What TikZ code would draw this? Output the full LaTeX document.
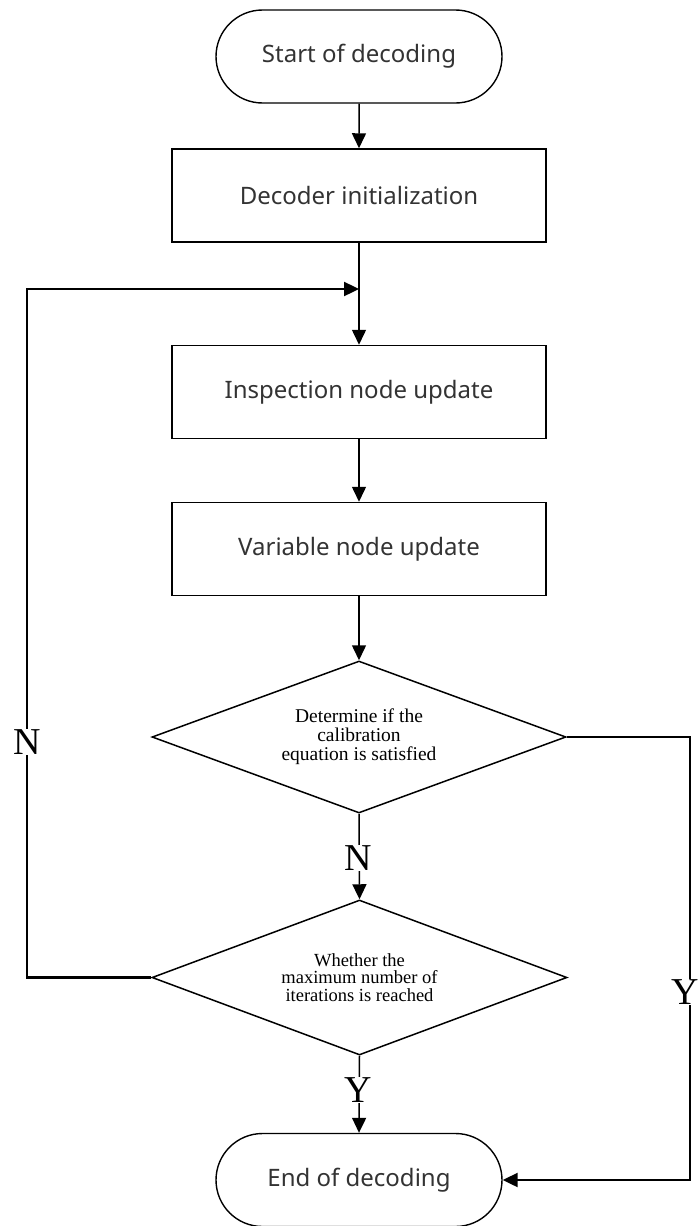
\documentclass[tikz,border=0pt]{standalone}
\usepackage{fontspec}
\setmainfont{Liberation Serif}
\newfontfamily\boxfont{Noto Sans}
\usetikzlibrary{shapes.geometric,shapes.misc,arrows.meta}
\begin{document}
\begin{tikzpicture}[x=1pt,y=-1pt,
  line/.style={line width=1.5pt},
  tip/.style={-{Triangle[length=15pt,width=14pt]}},
  arr/.style={line, tip},
  fb/.style={line width=2.4pt, tip},
  procbox/.style={draw, line width=1.5pt, minimum width=374pt, minimum height=93pt,
    inner sep=0pt, font=\boxfont\fontsize{24}{28}\selectfont, text=black!80},
  term/.style={draw, rounded rectangle, line width=1.4pt, minimum width=286pt,
    minimum height=93pt, inner sep=0pt, font=\boxfont\fontsize{24}{28}\selectfont, text=black!80},
  decision/.style={draw, diamond, aspect=2.7, line width=1.5pt, inner sep=0pt, align=center},
  lbl/.style={font=\fontsize{38}{44}\selectfont, inner sep=1pt, fill=white}
]
\useasboundingbox (0,0) rectangle (697,1226);

% nodes of the decoding flow
\node[term] (start) at (359,56.5) {Start of decoding};
\node[procbox] (init) at (359,195.5) {Decoder initialization};
\node[procbox] (insp) at (359,392) {Inspection node update};
\node[procbox] (var) at (359,549) {Variable node update};
\node[decision, minimum width=414pt, minimum height=152pt,
      font=\fontsize{19.5}{19}\selectfont] (check) at (359,737)
  {Determine if the\\calibration\\equation is satisfied};
\node[decision, minimum width=415pt, minimum height=155pt,
      font=\fontsize{18.5}{17.5}\selectfont] (iter) at (359.5,977.5)
  {Whether the\\maximum number of\\iterations is reached};
\node[term] (end) at (359,1180) {End of decoding};

% loop-back and exit corners
\coordinate (merge) at (359,289);
\coordinate (fbL) at (27,977.5);
\coordinate (fbT) at (27,289);
\coordinate (exR) at (690,737);
\coordinate (exB) at (690,1180);

% main sequence
\draw[arr] (start) -- (init);
\draw[arr] (init) -- (insp);
\draw[arr] (insp) -- (var);
\draw[arr] (var) -- (check);
\draw[arr] (check.south) -- (iter.north);
\draw[arr] (iter.south) -- (end.north);

% iteration loop back to the check-node update
\draw[fb] (iter.west) -- (fbL) -- (fbT) -- (merge);

% exit when the check equations hold
\draw[line width=2.2pt, tip] (check.east) -- (exR) -- (exB) -- (end.east);

% branch labels
\node[lbl] (nMid) at (358,858) {N};
\node[lbl] (yMid) at (358,1090) {Y};
\node[lbl] (nLeft) at (27,742) {N};
\node[lbl] (yRight) at (685,992) {Y};
\end{tikzpicture}
\end{document}
